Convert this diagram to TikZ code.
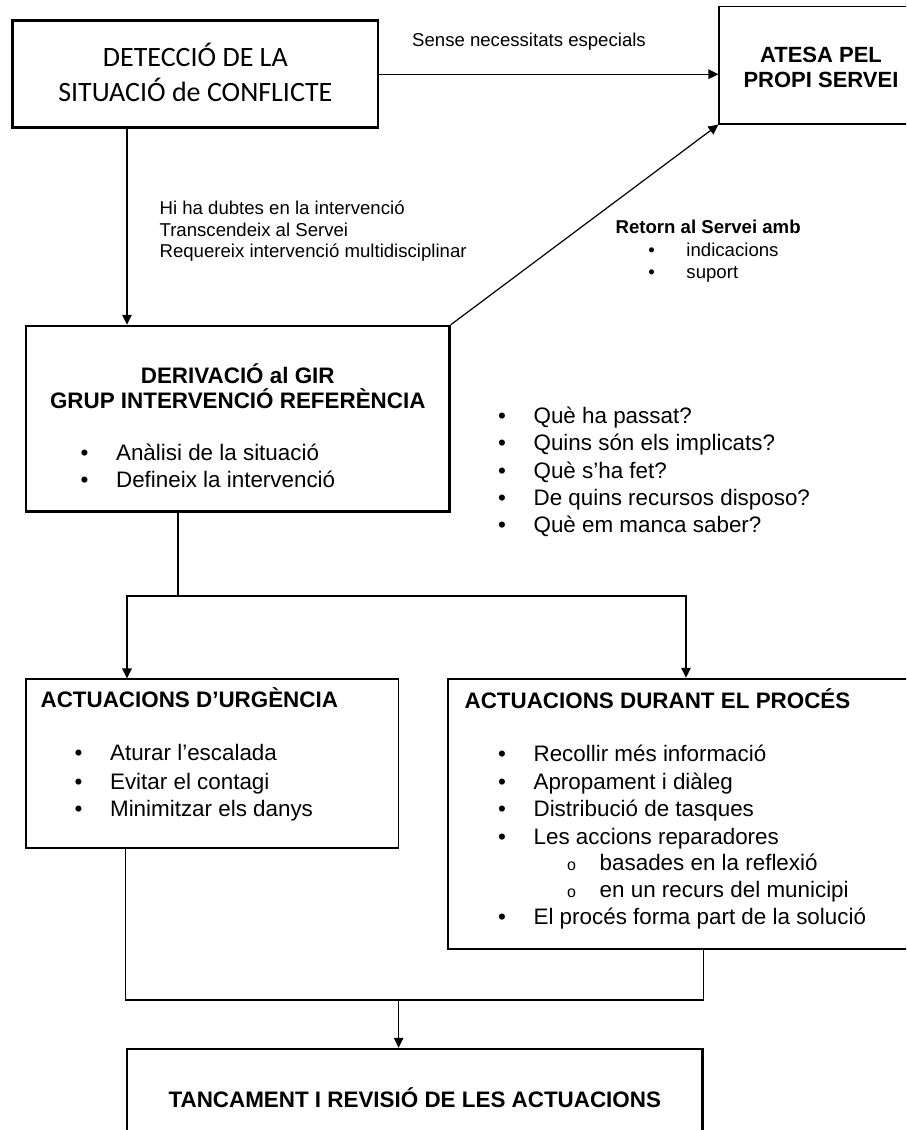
\documentclass[tikz,border=0pt]{standalone}
\usepackage{fontspec}
\setmainfont{Liberation Sans}
\newfontfamily\calibri{Carlito}
\usetikzlibrary{arrows.meta}

\newcommand{\bul}[2][17.7pt]{\makebox[#1][l]{\textbullet}#2}
\newcommand{\subbul}[1]{\makebox[16.3pt][l]{\fontsize{8}{8}\selectfont o}#1}

\begin{document}
\begin{tikzpicture}[x=0.5pt, y=-0.5pt, line width=0.6pt, >={Triangle[length=5pt, width=4.8pt]},
  box/.style={draw, line width=1.25pt, inner sep=0pt},
  thinbox/.style={draw, line width=0.6pt, inner sep=0pt},
  txt/.style={inner sep=0pt, anchor=base west, font=\fontsize{11.2}{13.75}\selectfont},
  hd/.style={inner sep=0pt, font=\fontsize{11.2}{12.5}\selectfont\bfseries},
  lbl/.style={inner sep=0pt, font=\fontsize{9.3}{10.75}\selectfont}]
  \clip (0,0) rectangle (906,1130);

  \node[box, minimum width=182.65pt, minimum height=53.5pt] (det) at (195.35,74.2) {};
  \node[thinbox, minimum width=102pt, minimum height=58.65pt] (ates) at (821,65.35) {};
  \node[box, minimum width=211.75pt, minimum height=92.85pt] (der) at (237.75,418.85) {};
  \node[thinbox, minimum width=186.3pt, minimum height=84.5pt] (urg) at (212.3,763.5) {};
  \node[box, minimum width=241pt, minimum height=135pt] (dur) at (689,814) {};
  \node[box, hd, minimum width=287.8pt, minimum height=49pt] (tanc) at (414.8,1098) {TANCAMENT I REVISIÓ DE LES ACTUACIONS};

  \node[inner sep=0pt, anchor=base, font=\calibri\fontsize{14}{17.8}\selectfont] (det1) at (195.35,66) {DETECCIÓ DE LA};
  \node[inner sep=0pt, anchor=base, font=\calibri\fontsize{14}{17.8}\selectfont] (det2) at (195.35,101.7) {SITUACIÓ de CONFLICTE};
  \node[hd, anchor=base, font=\fontsize{11}{12.5}\selectfont\bfseries] (ates1) at (821,62.7) {ATESA PEL};
  \node[hd, anchor=base, font=\fontsize{11}{12.5}\selectfont\bfseries] (ates2) at (821,87.7) {PROPI SERVEI};

  \node[lbl] (sense) at (529,42) {Sense necessitats especials};
  \node[lbl, align=left, anchor=west] (dubtes) at (159,231.5) {Hi ha dubtes en la intervenció\\Transcendeix al Servei\\Requereix intervenció multidisciplinar};
  \node[lbl, anchor=base west] (ret) at (615,233) {\bfseries Retorn al Servei amb};
  \foreach \y/\entry [count=\i] in {250/indicacions, 272/suport}
    \node[lbl, anchor=base west] (ret\i) at (647.7,\y+6) {\bul[19.1pt]{\entry}};

  \node[hd, align=center] (derh) at (237.75,386.5) {DERIVACIÓ al GIR\\GRUP INTERVENCIÓ REFERÈNCIA};
  \foreach \y/\entry [count=\i] in {452.7/Anàlisi de la situació, 480/Defineix la intervenció}
    \node[txt] (der\i) at (80.1,\y+7.5) {\bul{\entry}};
  \foreach \y/\entry [count=\i] in {415.7/Què ha passat?, 442.7/Quins són els implicats?, 470.7/Què s’ha fet?, 498/De quins recursos disposo?, 525/Què em manca saber?}
    \node[txt] (q\i) at (497.6,\y+7.5) {\bul{\entry}};

  \node[hd, anchor=base west] (urgh) at (40,707.5) {ACTUACIONS D’URGÈNCIA};
  \foreach \y/\entry [count=\i] in {753/Aturar l’escalada, 781.7/Evitar el contagi, 809/Minimitzar els danys}
    \node[txt] (urg\i) at (74.1,\y+7.5) {\bul{\entry}};

  \node[hd, anchor=base west] (durh) at (464,708) {ACTUACIONS DURANT EL PROCÉS};
  \foreach \y/\entry [count=\i] in {754/Recollir més informació, 781.7/Apropament i diàleg, 809/Distribució de tasques, 836.7/Les accions reparadores, 916.7/El procés forma part de la solució}
    \node[txt] (dur\i) at (497.6,\y+7.5) {\bul{\entry}};
  \foreach \y/\entry [count=\i] in {863.3/basades en la reflexió, 890/en un recurs del municipi}
    \node[txt] (sub\i) at (566.5,\y+7.5) {\subbul{\entry}};

  \coordinate (lft) at (127,596);
  \coordinate (split) at (178,596);
  \coordinate (rgt) at (686,596);
  \coordinate (merge) at (398.6,1000);

  \draw[->] (det.east) -- (det.east -| ates.west);
  \draw[->] (det.south -| lft) -- (der.north -| lft);
  \draw[->] (der.north east) -- (ates.south west);
  \draw[->] (der.south -| split) -- (split) -- (lft) -- (urg.north -| lft);
  \draw[->] (split) -- (rgt) -- (dur.north -| rgt);
  \draw (urg.south -| tanc.west) |- (merge);
  \draw (dur.south -| tanc.east) |- (merge);
  \draw[->] (merge) -- (tanc.north -| merge);
\end{tikzpicture}
\end{document}
